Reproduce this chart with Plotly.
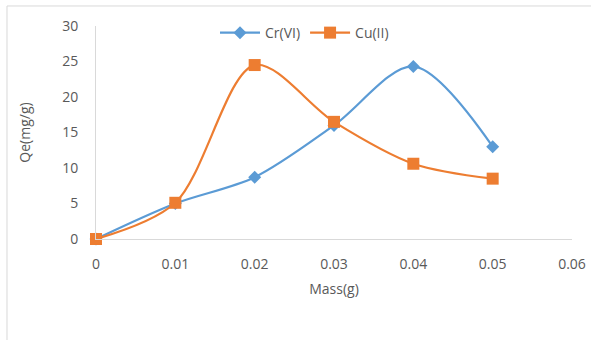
import plotly.graph_objects as go

mass = [0, 0.01, 0.02, 0.03, 0.04, 0.05]
cr_vi = [0, 5.0, 8.7, 16.0, 24.3, 13.0]
cu_ii = [0, 5.1, 24.5, 16.5, 10.6, 8.5]
x_ticks = [0, 0.01, 0.02, 0.03, 0.04, 0.05, 0.06]
x_labels = ["0", "0.01", "0.02", "0.03", "0.04", "0.05", "0.06"]
y_ticks = [0, 5, 10, 15, 20, 25, 30]

fig = go.Figure()
fig.add_trace(go.Scatter(
    x=mass, y=cr_vi, name="Cr(VI)", mode="lines+markers", cliponaxis=False,
    line=dict(color="#5B9BD5", width=2.2, shape="spline", smoothing=0.9),
    marker=dict(symbol="diamond", size=10, color="#5B9BD5"),
))
fig.add_trace(go.Scatter(
    x=mass, y=cu_ii, name="Cu(II)", mode="lines+markers", cliponaxis=False,
    line=dict(color="#ED7D31", width=2.2, shape="spline", smoothing=0.9),
    marker=dict(symbol="square", size=12, color="#ED7D31"),
))

fig.update_layout(
    width=591, height=340,
    margin=dict(l=96, r=19, t=26, b=101, autoexpand=False),
    paper_bgcolor="white", plot_bgcolor="white",
    font=dict(family="Open Sans", size=14, color="#595959"),
    showlegend=True,
    legend=dict(orientation="h", x=0.25, y=0.967, xanchor="left", yanchor="middle",
                bgcolor="rgba(0,0,0,0)", font=dict(size=14, color="#595959"),
                itemwidth=40, tracegroupgap=0),
    xaxis=dict(range=[0, 0.06], tickvals=x_ticks, ticktext=x_labels,
               showgrid=False, zeroline=False, showline=True, linecolor="#d9d9d9",
               linewidth=1, ticks="", ticklabelstandoff=12,
               title=dict(text="Mass(g)", font=dict(size=14, color="#595959"), standoff=12)),
    yaxis=dict(range=[0, 30], tickvals=y_ticks,
               showgrid=False, zeroline=False, showline=True, linecolor="#d9d9d9",
               linewidth=1, ticks="", ticklabelstandoff=14,
               title=dict(text="Qe(mg/g)", font=dict(size=14, color="#595959"), standoff=28)),
)

fig.add_shape(type="rect", xref="paper", yref="paper",
              x0=-0.187, x1=1.2, y0=-0.8, y1=1.094,
              line=dict(color="#d9d9d9", width=1), fillcolor="rgba(0,0,0,0)", layer="below")

fig.write_html("out.html")
